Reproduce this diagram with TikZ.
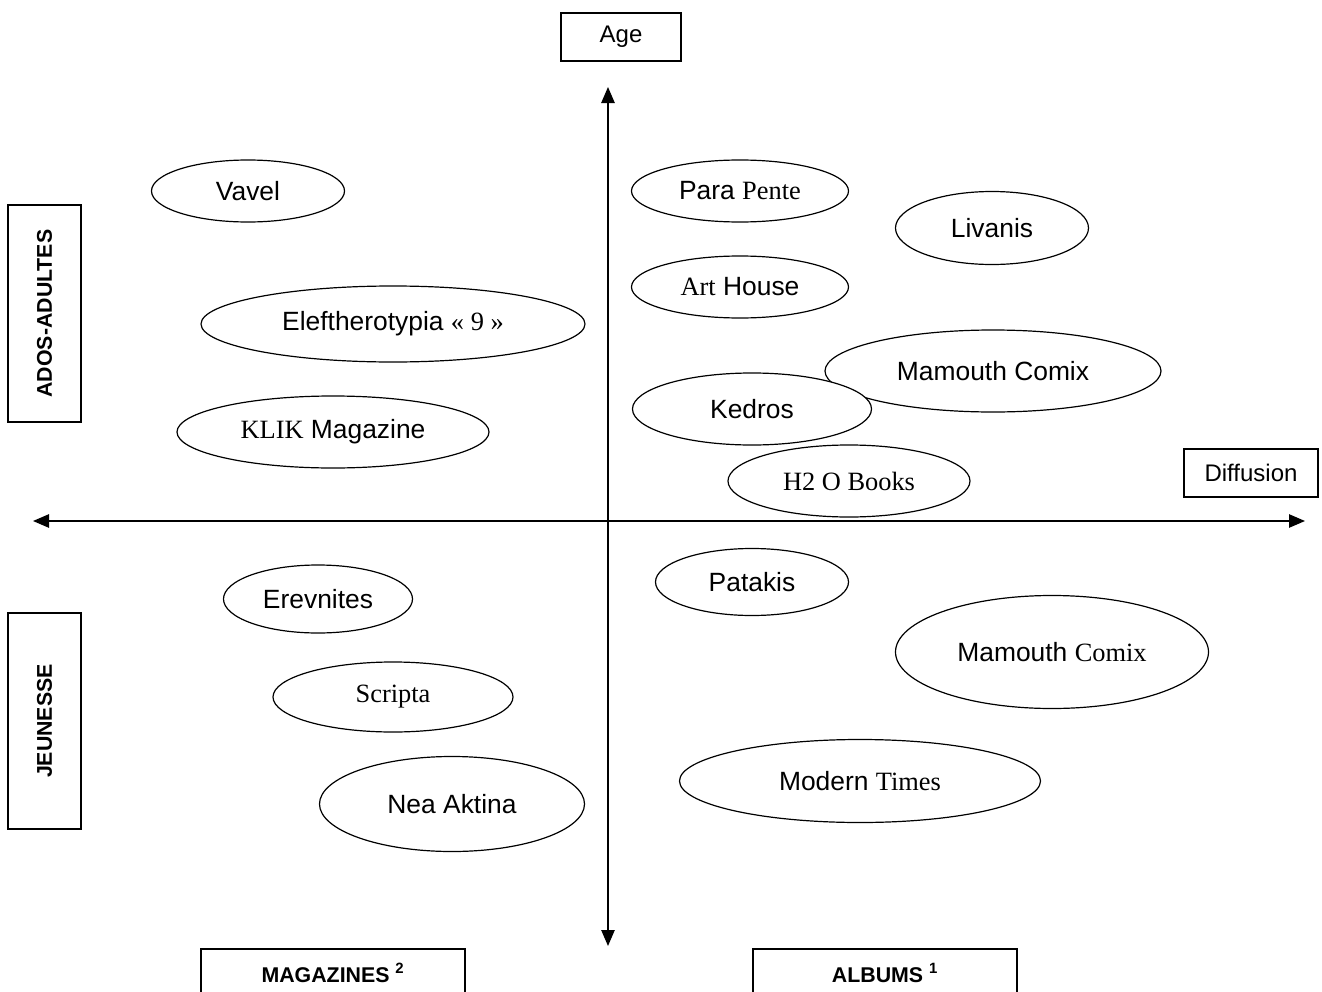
\documentclass[tikz,border=0pt]{standalone}
\usepackage{fontspec}
\setmainfont{Liberation Sans}
\newfontfamily\tnr{Liberation Serif}
\newcommand{\tm}[1]{{\tnr #1}}
\usetikzlibrary{shapes.geometric,arrows.meta}

\begin{document}
\begin{tikzpicture}[x=0.75pt,y=-0.75pt,
  pub/.style={ellipse,draw,line width=0.9pt,fill=white,inner sep=0pt,font=\fontsize{19.8}{23}\selectfont},
  axisbox/.style={rectangle,draw,line width=0.9pt,inner sep=0pt,font=\fontsize{18}{21}\selectfont},
  catbox/.style={rectangle,draw,line width=0.9pt,inner sep=0pt,font=\fontsize{16}{19}\selectfont\bfseries}]
 \useasboundingbox (0,0) rectangle (1322,992);

 % axes
 \coordinate (top) at (608,87);
 \coordinate (bottom) at (608,946);
 \coordinate (left) at (33,521);
 \coordinate (right) at (1305,521);
 \draw[line width=1.2pt,{Triangle[length=12pt,width=10pt]}-{Triangle[length=12pt,width=10pt]}] (bottom) -- (top);
 \draw[line width=1.2pt,{Triangle[length=12pt,width=10pt]}-{Triangle[length=12pt,width=10pt]}] (left) -- (right);

 \node[axisbox,minimum width=90pt,minimum height=36pt] (age) at (621,37) {Age\vphantom{g}};
 \node[axisbox,minimum width=100.5pt,minimum height=36pt] (diffusion) at (1251,473) {Diffusion};

 \node[catbox,rotate=90,minimum width=162.75pt,minimum height=54.75pt] (adultes) at (44.5,313.5) {ADOS-ADULTES};
 \node[catbox,rotate=90,minimum width=162pt,minimum height=54.75pt] (jeunesse) at (44.5,721) {JEUNESSE};
 \node[catbox,minimum width=198pt,minimum height=36pt] (magazines) at (333,973) {MAGAZINES \textsuperscript{2}};
 \node[catbox,minimum width=198pt,minimum height=36pt] (albums) at (885,973) {ALBUMS \textsuperscript{1}};

 % publishers
 \node[pub,minimum width=144.75pt,minimum height=46.5pt] (vavel) at (248,191) {Vavel};
 \node[pub,minimum width=162.75pt,minimum height=46.5pt] (parapente) at (740,191) {Para \tm{Pente}};
 \node[pub,minimum width=144.75pt,minimum height=54.75pt] (livanis) at (992,228) {Livanis};
 \node[pub,minimum width=162.75pt,minimum height=46.5pt] (arthouse) at (740,287) {\tm{Art} House};
 \node[pub,minimum width=288pt,minimum height=57pt] (eleftherotypia) at (393,324) {Eleftherotypia \tm{« 9 »}};
 \node[pub,minimum width=252pt,minimum height=61.5pt] (mamouth1) at (993,371) {Mamouth Comix};
 \node[pub,minimum width=179.25pt,minimum height=54pt] (kedros) at (752,409) {Kedros};
 \node[pub,minimum width=234pt,minimum height=54pt] (klik) at (333,432) {\tm{KLIK} Magazine};
 \node[pub,minimum width=181.5pt,minimum height=54pt] (htwoo) at (849,481) {\tm{H2 O Books}};

 \node[pub,minimum width=144.75pt,minimum height=50.25pt] (patakis) at (752,582) {Patakis};
 \node[pub,minimum width=141.75pt,minimum height=51pt] (erevnites) at (318,599) {Erevnites};
 \node[pub,minimum width=234.75pt,minimum height=84.75pt] (mamouth2) at (1052,652) {Mamouth \tm{Comix}};
 \node[pub,minimum width=180pt,minimum height=52.5pt] (scripta) at (393,697) {\tm{Scripta}};
 \node[pub,minimum width=270.75pt,minimum height=62.25pt] (moderntimes) at (860,781) {Modern \tm{Times}};
 \node[pub,minimum width=198.75pt,minimum height=71.25pt] (neaaktina) at (452,804) {Nea Aktina};
\end{tikzpicture}
\end{document}
